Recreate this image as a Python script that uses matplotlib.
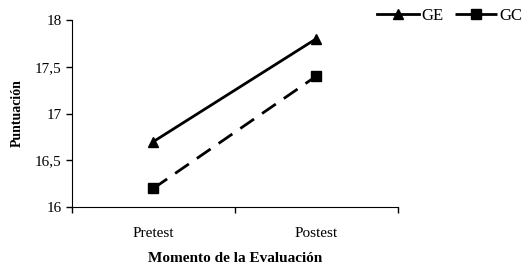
import matplotlib.pyplot as plt
from matplotlib.ticker import FixedLocator, FuncFormatter

plt.rcParams['font.family'] = ['Liberation Serif', 'DejaVu Serif']

# Data
momentos = ['Pretest', 'Postest']
ge = [16.7, 17.8]
gc = [16.2, 17.4]
yticks = [16, 16.5, 17, 17.5, 18]

fig = plt.figure(figsize=(5.29, 2.70), dpi=100)
ax = fig.add_axes([0.136, 0.233, 0.616, 0.693])

x = list(range(len(momentos)))
ax.plot(x, ge, color='black', lw=2, marker='^', ms=7, label='GE')
ax.plot(x, gc, color='black', lw=2, marker='s', ms=7, dashes=(6, 3.5), label='GC')

ax.set_xlim(-0.5, len(momentos) - 0.5)
ax.set_ylim(16, 18)
ax.set_yticks(yticks)
ax.yaxis.set_major_formatter(FuncFormatter(lambda v, p: f'{v:g}'.replace('.', ',')))

# category labels between the boundary ticks
ax.set_xticks([i - 0.5 for i in range(len(momentos) + 1)])
ax.set_xticklabels([])
ax.xaxis.set_minor_locator(FixedLocator(x))
ax.set_xticks(x, minor=True)
ax.set_xticklabels(momentos, minor=True)
ax.tick_params(axis='x', which='minor', length=0, pad=14, labelsize=11)
ax.tick_params(axis='x', which='major', length=4, direction='out', width=1)
ax.tick_params(axis='y', length=4, direction='out', labelsize=11, width=1)

for s in ['top', 'right']:
    ax.spines[s].set_visible(False)

ax.set_xlabel('Momento de la Evaluación', fontweight='bold', fontsize=11, labelpad=9)
ax.set_ylabel('Puntuación', fontweight='bold', fontsize=10, labelpad=8)

fig.legend(loc='upper left', bbox_to_anchor=(0.700, 0.995), ncol=2, frameon=False,
           fontsize=12, handlelength=2.5, columnspacing=0.7, handletextpad=0.15,
           borderaxespad=0)

fig.savefig('out.png', dpi=100)
